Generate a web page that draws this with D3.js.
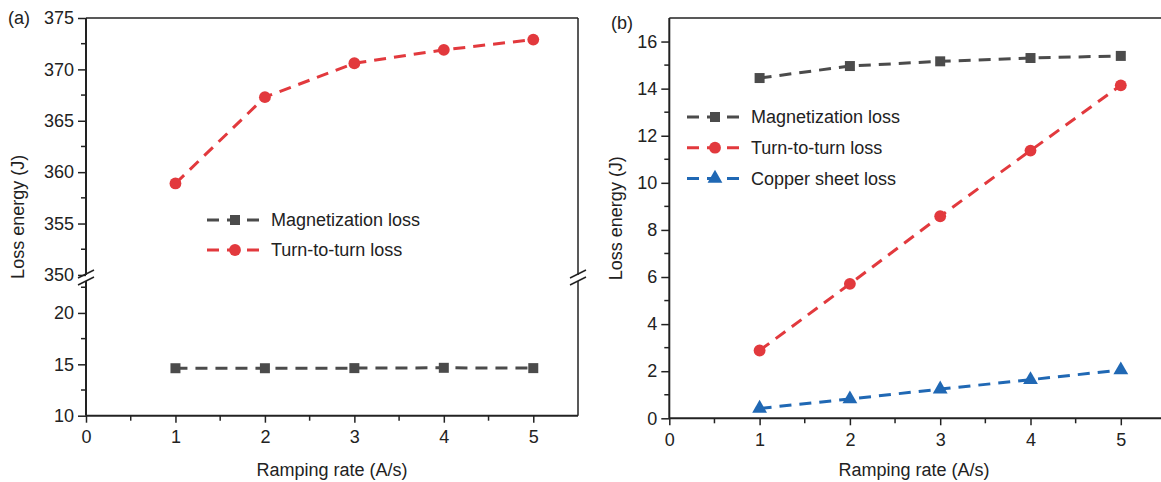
<!DOCTYPE html>
<html>
<head>
<meta charset="utf-8">
<script src="https://cdn.jsdelivr.net/npm/d3@7"></script>
<style>
  body { margin: 0; background: #fff; }
  text { font-family: "Liberation Sans", Arial, sans-serif; fill: #222; }
</style>
</head>
<body>
<svg id="chart" width="1161" height="482"></svg>
<script>
// ---- data ----
var rates = [1, 2, 3, 4, 5];
var magA = [14.62, 14.62, 14.63, 14.66, 14.63];
var turnA = [358.9, 367.3, 370.6, 371.9, 372.9];
var magB = [14.45, 14.96, 15.16, 15.30, 15.39];
var turnB = [2.88, 5.71, 8.58, 11.37, 14.14];
var copperB = [0.42, 0.82, 1.24, 1.64, 2.05];
var xTicks = [0, 1, 2, 3, 4, 5];
var upperTicksA = [350, 355, 360, 365, 370, 375];
var lowerTicksA = [10, 15, 20];
var ticksB = [0, 2, 4, 6, 8, 10, 12, 14, 16];

var gray = "#4b4b4b", red = "#e2393d", blue = "#2068b4";
var dash = "12,8";

var svg = d3.select("#chart");

// helpers
function drawLine(g, x, y, vals, color) {
    var line = d3.line()
        .x((d, i) => x(rates[i]))
        .y(d => y(d));
    g.append("path")
        .datum(vals)
        .attr("fill", "none")
        .attr("stroke", color)
        .attr("stroke-width", 3)
        .attr("stroke-dasharray", dash)
        .attr("d", line);
}

function drawMarkers(g, pts, shape, color) {
    var sym = shape == "square" ? d3.symbolSquare : shape == "circle" ? d3.symbolCircle : d3.symbolTriangle;
    var size = shape == "square" ? 100 : shape == "circle" ? 110 : 95;
    g.selectAll(null)
        .data(pts)
        .enter()
        .append("path")
        .attr("d", d3.symbol().type(sym).size(size))
        .attr("transform", d => `translate(${d[0]},${d[1]})`)
        .attr("fill", color);
}

function styleAxis(sel) {
    sel.select(".domain").remove();
    sel.selectAll("line").attr("stroke", "#222").attr("stroke-width", 1.5);
    sel.selectAll("text").style("font-size", "18px").attr("fill", "#222");
}

function minorTicks(g, scale, vals, orient) {
    vals.forEach(function (v) {
        if (orient == "left") {
            g.append("line").attr("x1", -5).attr("x2", 0)
                .attr("y1", scale(v)).attr("y2", scale(v))
                .attr("stroke", "#222").attr("stroke-width", 1.5);
        } else {
            g.append("line").attr("y1", 0).attr("y2", 5)
                .attr("x1", scale(v)).attr("x2", scale(v))
                .attr("stroke", "#222").attr("stroke-width", 1.5);
        }
    });
}

function legend(g, x0, y0, rows) {
    rows.forEach(function (r, i) {
        var y = y0 + i * r.step;
        g.append("line")
            .attr("x1", x0).attr("x2", x0 + 57)
            .attr("y1", y).attr("y2", y)
            .attr("stroke", r.color).attr("stroke-width", 3)
            .attr("stroke-dasharray", "12,8");
        drawMarkers(g, [[x0 + 28, y]], r.shape, r.color);
        g.append("text")
            .attr("x", x0 + 64).attr("y", y)
            .attr("dy", "0.35em")
            .style("font-size", "18px")
            .text(r.label);
    });
}

// ---------------- panel (a) ----------------
var leftA = 86, rightA = 578, topA = 18, bottomA = 415.7, breakY = 278;

var xA = d3.scaleLinear().domain([0, 5.5]).range([leftA, rightA]);
var yUp = d3.scaleLinear().domain([349.7, 375]).range([breakY, topA]);
var yLo = d3.scaleLinear().domain([10, 23.4]).range([bottomA, breakY]);

var gA = svg.append("g");

// frame
gA.append("line").attr("x1", leftA).attr("x2", rightA).attr("y1", topA).attr("y2", topA)
    .attr("stroke", "#222").attr("stroke-width", 1.5);
gA.append("line").attr("x1", leftA).attr("x2", leftA).attr("y1", topA).attr("y2", bottomA)
    .attr("stroke", "#222").attr("stroke-width", 2);
gA.append("line").attr("x1", rightA).attr("x2", rightA).attr("y1", topA).attr("y2", bottomA)
    .attr("stroke", "#222").attr("stroke-width", 1.5);
gA.append("line").attr("x1", leftA).attr("x2", rightA).attr("y1", bottomA).attr("y2", bottomA)
    .attr("stroke", "#222").attr("stroke-width", 2);

// break marks
[leftA, rightA].forEach(function (bx) {
    gA.append("rect").attr("x", bx - 3).attr("y", breakY - 3).attr("width", 6).attr("height", 6)
        .attr("fill", "#fff");
    [-4, 3].forEach(function (o) {
        gA.append("line")
            .attr("x1", bx - 8).attr("y1", breakY + o + 4)
            .attr("x2", bx + 8).attr("y2", breakY + o - 4)
            .attr("stroke", "#222").attr("stroke-width", 1.5);
    });
});

// axes
var axUp = gA.append("g").attr("transform", `translate(${leftA},0)`)
    .call(d3.axisLeft(yUp).tickValues(upperTicksA).tickSize(8).tickPadding(4));
styleAxis(axUp);
minorTicks(axUp, yUp, [352.5, 357.5, 362.5, 367.5, 372.5], "left");

var axLo = gA.append("g").attr("transform", `translate(${leftA},0)`)
    .call(d3.axisLeft(yLo).tickValues(lowerTicksA).tickSize(8).tickPadding(4));
styleAxis(axLo);
minorTicks(axLo, yLo, [12.5, 17.5, 22.5], "left");

var axXA = gA.append("g").attr("transform", `translate(0,${bottomA})`)
    .call(d3.axisBottom(xA).tickValues(xTicks).tickFormat(d3.format("d")).tickSize(7).tickPadding(8));
styleAxis(axXA);
minorTicks(axXA, xA, [0.5, 1.5, 2.5, 3.5, 4.5], "bottom");

// data
drawLine(gA, xA, yUp, turnA, red);
drawMarkers(gA, rates.map((r, i) => [xA(r), yUp(turnA[i])]), "circle", red);
drawLine(gA, xA, yLo, magA, gray);
drawMarkers(gA, rates.map((r, i) => [xA(r), yLo(magA[i])]), "square", gray);

legend(gA, 207, 220, [
    {label: "Magnetization loss", color: gray, shape: "square", step: 30},
    {label: "Turn-to-turn loss", color: red, shape: "circle", step: 30}
]);

gA.append("text").attr("x", 8).attr("y", 24).style("font-size", "18px").text("(a)");
gA.append("text")
    .attr("transform", `translate(24,${(topA + bottomA) / 2}) rotate(-90)`)
    .attr("text-anchor", "middle")
    .style("font-size", "18px")
    .text("Loss energy (J)");
gA.append("text")
    .attr("x", (leftA + rightA) / 2).attr("y", 476)
    .attr("text-anchor", "middle")
    .style("font-size", "18px")
    .text("Ramping rate (A/s)");

// ---------------- panel (b) ----------------
var leftB = 669.3, topB = 18, bottomB = 418.3;
var xB = d3.scaleLinear().domain([0, 5.5]).range([leftB, leftB + 5.5 * 90.3]);
var yB = d3.scaleLinear().domain([0, 17]).range([bottomB, topB]);

var gB = svg.append("g");
gB.append("line").attr("x1", leftB).attr("x2", 1161).attr("y1", topB).attr("y2", topB)
    .attr("stroke", "#222").attr("stroke-width", 1.5);
gB.append("line").attr("x1", leftB).attr("x2", leftB).attr("y1", topB).attr("y2", bottomB)
    .attr("stroke", "#222").attr("stroke-width", 2);
gB.append("line").attr("x1", leftB).attr("x2", 1161).attr("y1", bottomB).attr("y2", bottomB)
    .attr("stroke", "#222").attr("stroke-width", 2);

var axYB = gB.append("g").attr("transform", `translate(${leftB},0)`)
    .call(d3.axisLeft(yB).tickValues(ticksB).tickSize(8).tickPadding(4));
styleAxis(axYB);
minorTicks(axYB, yB, [1, 3, 5, 7, 9, 11, 13, 15], "left");

var axXB = gB.append("g").attr("transform", `translate(0,${bottomB})`)
    .call(d3.axisBottom(xB).tickValues(xTicks).tickFormat(d3.format("d")).tickSize(7).tickPadding(8));
styleAxis(axXB);
minorTicks(axXB, xB, [0.5, 1.5, 2.5, 3.5, 4.5], "bottom");

drawLine(gB, xB, yB, magB, gray);
drawMarkers(gB, rates.map((r, i) => [xB(r), yB(magB[i])]), "square", gray);
drawLine(gB, xB, yB, turnB, red);
drawMarkers(gB, rates.map((r, i) => [xB(r), yB(turnB[i])]), "circle", red);
drawLine(gB, xB, yB, copperB, blue);
drawMarkers(gB, rates.map((r, i) => [xB(r), yB(copperB[i])]), "triangle", blue);

legend(gB, 687, 117, [
    {label: "Magnetization loss", color: gray, shape: "square", step: 30.7},
    {label: "Turn-to-turn loss", color: red, shape: "circle", step: 30.7},
    {label: "Copper sheet loss", color: blue, shape: "triangle", step: 30.7}
]);

gB.append("text").attr("x", 611).attr("y", 29).style("font-size", "18px").text("(b)");
gB.append("text")
    .attr("transform", `translate(622,${(topB + bottomB) / 2}) rotate(-90)`)
    .attr("text-anchor", "middle")
    .style("font-size", "18px")
    .text("Loss energy (J)");
gB.append("text")
    .attr("x", 914).attr("y", 476)
    .attr("text-anchor", "middle")
    .style("font-size", "18px")
    .text("Ramping rate (A/s)");
</script>
</body>
</html>
